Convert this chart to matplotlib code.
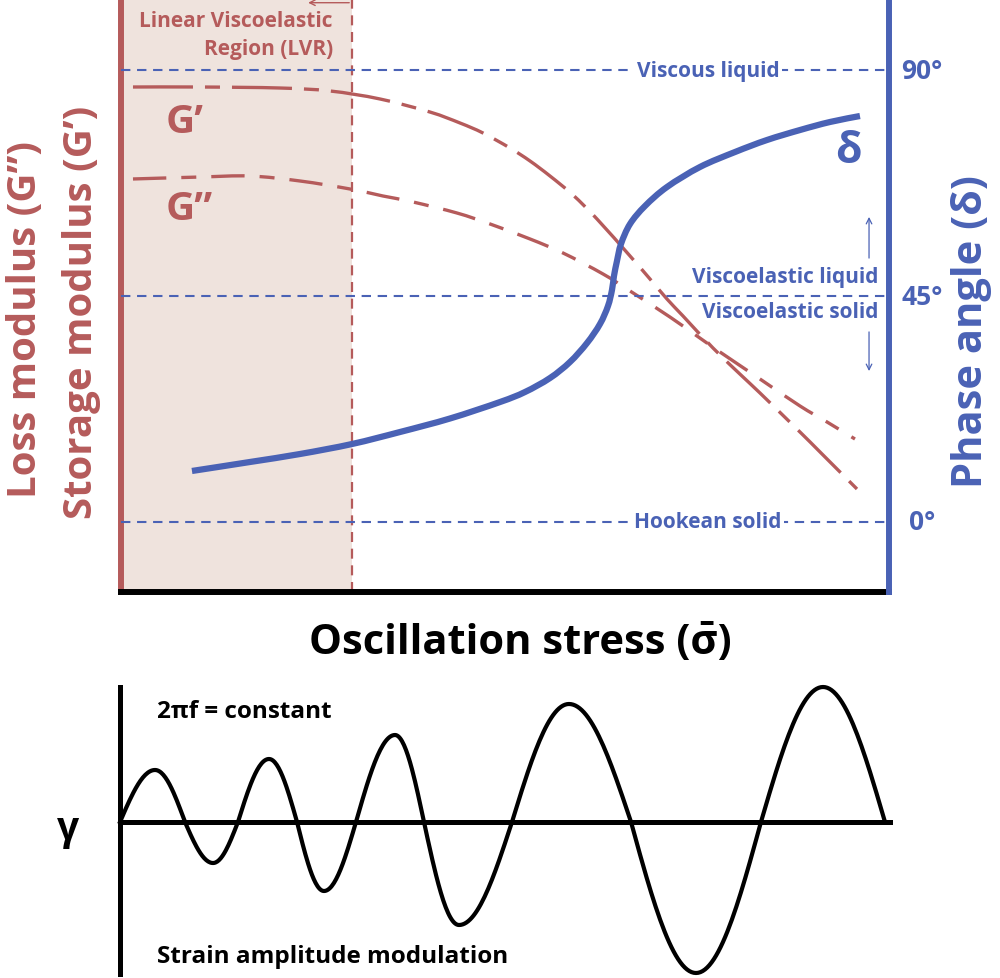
import numpy as np
import matplotlib
matplotlib.use("Agg")
import matplotlib.pyplot as plt
from matplotlib.path import Path
from matplotlib.patches import PathPatch

plt.rcParams['font.family'] = ['Open Sans', 'DejaVu Sans']

RED = '#B55B5B'
BLUE = '#4A62B5'
BEIGE = '#EFE3DD'

# phase angle curve (stress, degrees)
delta_x = [9.24, 16.8, 23.31, 30.08, 36.33, 42.84, 49.35, 52.6, 55.86, 58.46, 60.68, 62.37,
           63.41, 63.93, 64.19, 64.58, 65.1, 66.28, 68.23, 71.09, 75.39, 79.95, 84.11, 88.41,
           92.32, 96.22]
delta_y = [10.16, 11.95, 13.54, 15.53, 17.92, 20.61, 23.89, 25.88, 28.67, 31.86, 35.64, 39.43,
           43.01, 46.2, 48.99, 51.97, 55.35, 59.34, 62.92, 66.7, 70.69, 73.67, 76.06, 78.05,
           79.65, 80.84]

# storage modulus G' (stress, arbitrary modulus units)
gp_x = [1.56, 10.29, 20.7, 27.21, 33.72, 40.23, 44.14, 47.14, 50.65, 53.26, 55.86, 58.85,
        61.98, 66.28, 68.88, 71.09, 73.18, 77.08, 80.99, 83.2, 88.41, 91.02, 95.83]
gp_y = [85.16, 85.16, 84.99, 84.49, 83.14, 80.94, 79.09, 77.4, 74.87, 72.68, 70.15, 66.95,
        62.9, 56.66, 52.78, 49.41, 46.54, 41.15, 36.26, 33.56, 26.98, 23.61, 17.37]

# loss modulus G''
gpp_x = [1.56, 10.29, 16.8, 23.31, 29.82, 34.11, 38.02, 43.75, 48.05, 53.26, 57.55, 62.76,
         66.28, 71.48, 75.0, 77.99, 83.2, 88.41, 91.93, 95.57]
gpp_y = [69.65, 69.98, 70.15, 69.31, 67.96, 66.78, 65.77, 63.91, 62.06, 59.53, 57.17, 53.63,
         50.76, 46.37, 43.17, 40.47, 35.92, 31.37, 28.67, 25.8]

lvr_end = 30.08
ref_angles = [0, 45, 90]

# strain wave: zero crossings, peak positions and amplitudes
wave_zeros = [0, 8.46, 15.36, 23.05, 30.73, 39.58, 51.04, 66.54, 83.46, 99.61]
wave_peaks = [4.56, 12.11, 19.4, 26.56, 35.81, 44.14, 58.46, 75.0, 91.54]
wave_amps = [0.52, -0.41, 0.63, -0.69, 0.87, -1.03, 1.18, -1.51, 1.35]


def smooth(xs, ys):
    # catmull-rom through the points, drawn as bezier segments
    p = np.column_stack([xs, ys]).astype(float)
    p = np.vstack([p[0], p, p[-1]])
    verts = [p[1]]
    codes = [Path.MOVETO]
    for i in range(1, len(p) - 2):
        c1 = p[i] + (p[i + 1] - p[i - 1]) / 6
        c2 = p[i + 1] - (p[i + 2] - p[i]) / 6
        verts += [c1, c2, p[i + 1]]
        codes += [Path.CURVE4] * 3
    return Path(verts, codes)


fig = plt.figure(figsize=(10, 9.79), dpi=100)

# ---------------- top panel ----------------
ax = fig.add_axes([0.121, 1 - 593 / 979, 0.768, 593 / 979])
ax2 = ax.twinx()
ax.set_xlim(0, 100)
ax.set_ylim(0, 100)
ax2.set_ylim(-70 / 5.0222, 523 / 5.0222)

ax.axvspan(0, lvr_end, color=BEIGE, zorder=0, lw=0)
ax.axvline(lvr_end, color=RED, lw=1.6, ls=(0, (4.5, 3)), zorder=1)

for a in ref_angles:
    ax2.axhline(a, color=BLUE, lw=1.5, ls=(0, (4.5, 3.2)), zorder=1)

ax.add_patch(PathPatch(smooth(gp_x, gp_y), fill=False, edgecolor=RED, lw=2.4,
                       ls=(0, (18, 3.6, 4.5, 3.6)), zorder=2))
ax.add_patch(PathPatch(smooth(gpp_x, gpp_y), fill=False, edgecolor=RED, lw=2.4,
                       ls=(0, (10, 4.5, 4.5, 4.5)), zorder=2))
ax2.add_patch(PathPatch(smooth(delta_x, delta_y), fill=False, edgecolor=BLUE, lw=4.5,
                        capstyle='butt', zorder=3))

for a in [ax, ax2]:
    a.set_xticks([])
    a.set_yticks([])
    a.spines['top'].set_visible(False)
ax.spines['left'].set_color(RED)
ax.spines['left'].set_linewidth(4.3)
ax.spines['right'].set_visible(False)
ax.spines['bottom'].set_color('black')
ax.spines['bottom'].set_linewidth(4.3)
ax2.spines['left'].set_visible(False)
ax2.spines['bottom'].set_visible(False)
ax2.spines['right'].set_color(BLUE)
ax2.spines['right'].set_linewidth(4.3)

txt = dict(color=BLUE, fontsize=15, fontweight='bold')
bg = dict(facecolor='white', edgecolor='none', pad=2)
ax2.text(76.43, 90, 'Viscous liquid', ha='center', va='center', bbox=bg, zorder=4, **txt)
ax2.text(76.43, 0, 'Hookean solid', ha='center', va='center', bbox=bg, zorder=4, **txt)
ax2.text(98.57, 48.8, 'Viscoelastic liquid', ha='right', va='center', **txt)
ax2.text(98.57, 42.0, 'Viscoelastic solid', ha='right', va='center', **txt)
ax2.annotate('', xy=(97.4, 61.3), xytext=(97.4, 52.0),
             arrowprops=dict(arrowstyle='->', color=BLUE, lw=0.9))
ax2.annotate('', xy=(97.4, 29.5), xytext=(97.4, 38.4),
             arrowprops=dict(arrowstyle='->', color=BLUE, lw=0.9))
for a in ref_angles:
    ax2.text(1.043, a, f'{a}°', transform=ax2.get_yaxis_transform(), ha='center', va='center',
             color=BLUE, fontsize=19, fontweight='bold', clip_on=False)

ax2.text(94.66, 73.9, 'δ', ha='center', va='center', color=BLUE, fontsize=31, fontweight='bold')
ax.text(8.3, 79.4, 'G’', ha='center', va='center', color=RED, fontsize=29, fontweight='bold')
ax.text(8.85, 64.6, 'G”', ha='center', va='center', color=RED, fontsize=29, fontweight='bold')

ax2.text(27.6, 99.76, 'Linear Viscoelastic', ha='right', va='center', color=RED,
         fontsize=15, fontweight='bold')
ax2.text(27.6, 94.2, 'Region (LVR)', ha='right', va='center', color=RED,
         fontsize=15, fontweight='bold')
ax2.annotate('', xy=(24.0, 103.4), xytext=(lvr_end, 103.4),
             arrowprops=dict(arrowstyle='->', color=RED, lw=1.0), annotation_clip=False)

fig.text(0.026, 1 - 320 / 979, 'Loss modulus (G”)', rotation=90, ha='center', va='center',
         color=RED, fontsize=29, fontweight='bold')
fig.text(0.082, 1 - 312 / 979, 'Storage modulus (G’)', rotation=90, ha='center', va='center',
         color=RED, fontsize=29, fontweight='bold')
fig.text(0.972, 1 - 332 / 979, 'Phase angle (δ)', rotation=90, ha='center', va='center',
         color=BLUE, fontsize=30, fontweight='bold')
fig.text(0.52, 1 - 644 / 979, 'Oscillation stress (σ\u0304)', ha='center', va='center',
         color='black', fontsize=30, fontweight='bold')

# ---------------- bottom panel ----------------
bx = fig.add_axes([0.120, 4 / 979, 0.768, 287 / 979])
bx.set_xlim(0, 100)
bx.set_ylim(-1.52, 1.35)
bx.set_xticks([])
bx.set_yticks([])
for s in ['top', 'right', 'bottom']:
    bx.spines[s].set_visible(False)
bx.spines['left'].set_linewidth(3.6)
bx.axhline(0, color='black', lw=3.6, xmin=0, xmax=1.003, clip_on=False)

wx, wy = [], []
for i in range(len(wave_peaks)):
    z0, p, z1, amp = wave_zeros[i], wave_peaks[i], wave_zeros[i + 1], wave_amps[i]
    t = np.linspace(0, 1, 30)
    wx += list(z0 + (p - z0) * t)
    wy += list(amp * np.sin(np.pi / 2 * t))
    wx += list(p + (z1 - p) * t[1:])
    wy += list(amp * np.cos(np.pi / 2 * t[1:]))
bx.plot(wx, wy, color='black', lw=3.0, clip_on=False, solid_joinstyle='round')

bx.text(4.82, 1.11, '2πf = constant', ha='left', va='center', fontsize=17.5, fontweight='bold')
bx.text(4.82, -1.34, 'Strain amplitude modulation', ha='left', va='center',
        fontsize=17.5, fontweight='bold')
fig.text(0.068, 1 - 830 / 979, 'γ', ha='center', va='center', fontsize=28, fontweight='bold')

fig.savefig('out.png', dpi=100, facecolor='white')
